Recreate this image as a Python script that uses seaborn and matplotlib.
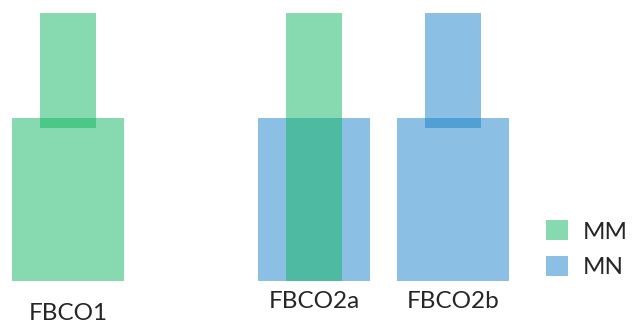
import matplotlib
matplotlib.use("Agg")
import matplotlib.pyplot as plt
from matplotlib.patches import Patch
import seaborn as sns

# ---- data ----
groups = ["FBCO1", "FBCO2a", "FBCO2b"]
x_pos = [0.0, 1.77, 2.77]
base_series = ["MM", "MN", "MN"]      # wide lower block
base_height = [61, 61, 61]
top_series = ["MM", "MM", "MN"]       # narrow upper block
top_bottom = [57, 0, 57]
top_height = [43, 100, 43]
label_y = [-12.0, -7.8, -7.8]
series = ["MM", "MN"]

sns.set_theme(style="white")
plt.rcParams["font.family"] = ["Lato", "DejaVu Sans"]

palette = dict(zip(series, ["#11B761", "#1981C9"]))
ALPHA = 0.5

fig = plt.figure(figsize=(6.34, 3.28), dpi=100)
ax = fig.add_axes([0, 0, 1, 1])

ax.bar(x_pos, base_height, width=0.8,
       color=[palette[s] for s in base_series], alpha=ALPHA, linewidth=0)
ax.bar(x_pos, top_height, bottom=top_bottom, width=0.4,
       color=[palette[s] for s in top_series], alpha=ALPHA, linewidth=0)

for x, y, g in zip(x_pos, label_y, groups):
    ax.text(x, y, g, ha="center", va="center", fontsize=17.5, color="#262626")

ax.set_xlim(-0.489, 4.072)
ax.set_ylim(-17.5, 104.85)
ax.axis("off")

handles = [Patch(facecolor=palette[s], alpha=ALPHA, linewidth=0) for s in series]
ax.legend(handles, series, loc="center left", bbox_to_anchor=(0.842, 0.24),
          frameon=False, fontsize=17.5, handlelength=0.9, handleheight=0.9,
          handletextpad=0.6, labelspacing=0.55, borderpad=0)

fig.savefig("out.png", dpi=100)
